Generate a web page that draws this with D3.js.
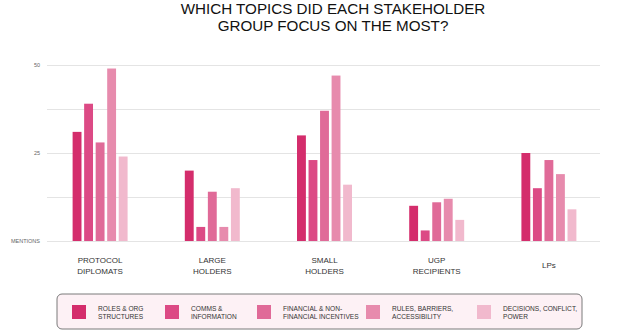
<!DOCTYPE html>
<html><head><meta charset="utf-8">
<script src="https://cdn.jsdelivr.net/npm/d3@7"></script>
<style>body{margin:0;background:#fff}svg{display:block;font-family:"Liberation Sans",Arial,sans-serif}</style>
</head><body><div id="c"></div>
<script>
const groups = ["PROTOCOL\nDIPLOMATS","LARGE\nHOLDERS","SMALL\nHOLDERS","UGP\nRECIPIENTS","LPs"];
const topics = ["ROLES & ORG\nSTRUCTURES","COMMS &\nINFORMATION","FINANCIAL & NON-\nFINANCIAL INCENTIVES","RULES, BARRIERS,\nACCESSIBILITY","DECISIONS, CONFLICT,\nPOWER"];
const rolesOrg   = [31, 20, 30, 10, 25];
const comms      = [39, 4, 23, 3, 15];
const financial  = [28, 14, 37, 11, 23];
const rules      = [49, 4, 47, 12, 19];
const decisions  = [24, 15, 16, 6, 9];
const yTicks = [0, 12.5, 25, 37.5, 50];
const yTickLabels = ["MENTIONS", "", "25", "", "50"];
const colors = ["#d42d6c","#dc4a85","#e06a98","#e78bad","#f1b9cd"];

const series = [rolesOrg, comms, financial, rules, decisions];
const W = 640, H = 334;
const svg = d3.select("#c").append("svg").attr("width", W).attr("height", H);

const x0 = d3.scaleBand().domain(d3.range(groups.length)).range([44, 605]).paddingInner(0.51).paddingOuter(0.255);
const x1 = d3.scaleBand().domain(d3.range(topics.length)).range([0, x0.bandwidth()]).paddingInner(0.23);
const y = d3.scaleLinear().domain([0, 50]).range([241, 65]);

// title
const title = svg.append("text").attr("text-anchor","middle").attr("fill","#111").attr("font-size",15.2);
title.append("tspan").attr("x",333).attr("y",14).text("WHICH TOPICS DID EACH STAKEHOLDER");
title.append("tspan").attr("x",333).attr("y",31).text("GROUP FOCUS ON THE MOST?");

// grid
const yAxis = d3.axisLeft(y).tickValues(yTicks).tickSize(-(600-47)).tickFormat((d,i)=>yTickLabels[i]);
const ga = svg.append("g").attr("transform","translate(47,0)").call(yAxis);
ga.select(".domain").remove();
ga.selectAll(".tick line").attr("stroke","#e4e4e4").attr("stroke-width",1);
ga.selectAll(".tick text").attr("fill","#666").attr("font-size",5.5).attr("x",-7).attr("dy","0.32em");

// bars
const gg = svg.append("g").selectAll("g").data(groups).join("g")
  .attr("transform",(d,i)=>`translate(${x0(i)},0)`);
gg.selectAll("rect").data((d,i)=>series.map((s,j)=>({j, v:s[i]}))).join("rect")
  .attr("x",d=>x1(d.j)).attr("width",x1.bandwidth())
  .attr("y",d=>y(d.v)).attr("height",d=>y(0)-y(d.v))
  .attr("fill",d=>colors[d.j]);

// group labels
groups.forEach((g,i)=>{
  const lines = g.split("\n");
  const t = svg.append("text").attr("text-anchor","middle").attr("fill","#333").attr("font-size",8);
  const cx = x0(i)+x0.bandwidth()/2;
  const y0 = lines.length===1 ? 268 : 263;
  lines.forEach((l,k)=>t.append("tspan").attr("x",cx).attr("y",y0+k*11).text(l));
});

// legend
svg.append("rect").attr("x",57).attr("y",294).attr("width",525).attr("height",35).attr("rx",5)
  .attr("fill","#fdf1f5").attr("stroke","#7a7a7a").attr("stroke-width",1);
const legX = [72, 165, 257, 366, 477];
topics.forEach((tp,j)=>{
  svg.append("rect").attr("x",legX[j]).attr("y",305).attr("width",14).attr("height",14).attr("fill",colors[j]);
  const t = svg.append("text").attr("fill","#333").attr("font-size",6.6);
  tp.split("\n").forEach((l,k)=>t.append("tspan").attr("x",legX[j]+26).attr("y",311+k*8).text(l));
});
</script></body></html>
